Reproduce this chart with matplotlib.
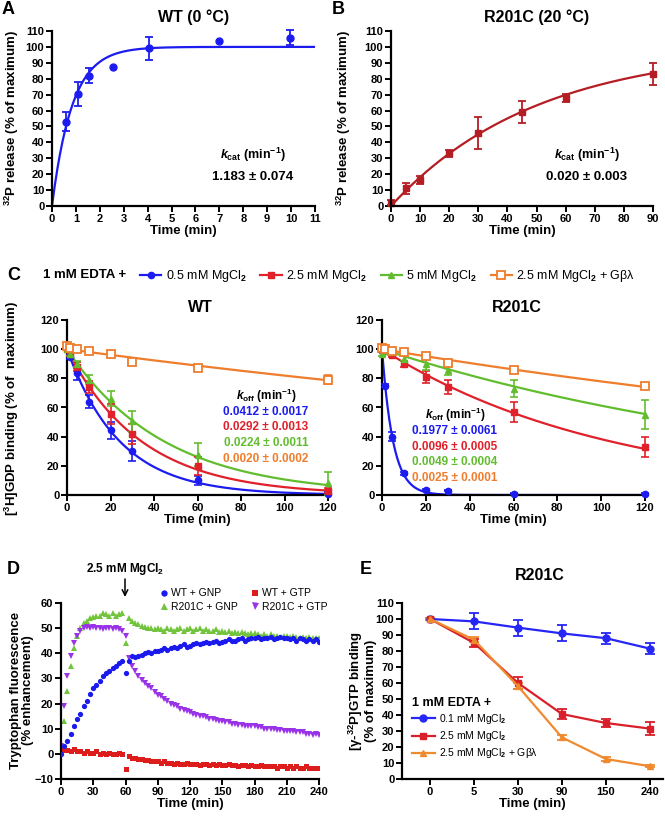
import numpy as np
import matplotlib
matplotlib.use('Agg')
import matplotlib.pyplot as plt
from matplotlib.lines import Line2D

plt.rcParams['font.family'] = ['Liberation Sans', 'DejaVu Sans']
plt.rcParams['font.weight'] = 'bold'
plt.rcParams['axes.labelweight'] = 'bold'
plt.rcParams['mathtext.fontset'] = 'custom'
plt.rcParams['mathtext.rm'] = 'Liberation Sans:bold'
plt.rcParams['mathtext.bf'] = 'Liberation Sans:bold'
plt.rcParams['mathtext.it'] = 'Liberation Sans:italic:bold'
plt.rcParams['mathtext.sf'] = 'Liberation Sans'

# ---- Panel A: WT (0 C) 32P release
a_t = [0.58, 1.08, 1.56, 2.55, 4.07, 7.0, 9.97]
a_y = [52.9, 70.3, 82.0, 87.4, 99.0, 103.8, 105.9]
a_err = [6.0, 7.5, 5.0, 0, 7.0, 0, 4.5]
a_kcat = 1.183

# ---- Panel B: R201C (20 C)
b_t = [0, 5, 10, 20, 30, 45, 60, 90]
b_y = [2, 11, 16.3, 33, 46, 59, 68, 83]
b_err = [1.5, 3.3, 2.5, 2, 10, 7, 2.5, 7]
b_kcat = 0.020

# ---- Panel C: [3H]GDP binding
c_t = [0, 1.5, 4.5, 10, 20, 30, 60, 120]
c_labels = ['0.5 mM MgCl$_\\mathsf{2}$', '2.5 mM MgCl$_\\mathsf{2}$',
            '5 mM MgCl$_\\mathsf{2}$', '2.5 mM MgCl$_\\mathsf{2}$ + G\u03b2\u03bb']
wt_y = {
    'blue':   [100, 94.8, 83.9, 64, 44.3, 30, 10, 1],
    'red':    [100, 97, 88, 74, 55.5, 42, 20, 3],
    'green':  [100, 97, 90, 79, 66, 50.5, 27.7, 8],
    'orange': [102, 101, 100, 98.5, 97, 91.5, 86.8, 79],
}
wt_err = {
    'blue':   [0, 1.5, 5, 4.5, 6, 7, 3, 1],
    'red':    [0, 1.5, 3, 4, 7, 7, 6, 1.5],
    'green':  [0, 1.5, 2, 3, 5, 7, 8, 8],
    'orange': [2, 1, 1, 1, 1.5, 1, 1, 3],
}
wt_k = {'blue': 0.0412, 'red': 0.0292, 'green': 0.0224, 'orange': 0.0020}
wt_ktxt = ['0.0412 \u00b1 0.0017', '0.0292 \u00b1 0.0013',
           '0.0224 \u00b1 0.0011', '0.0020 \u00b1 0.0002']
mu_y = {
    'blue':   [99, 75, 40, 15, 3.5, 3, 1, 1],
    'red':    [101, 99, 96, 90, 81, 74, 57, 33],
    'green':  [97, 99, 98, 93.6, 90, 86, 73, 55],
    'orange': [101, 100, 99, 98, 95.5, 90.7, 86, 75],
}
mu_err = {
    'blue':   [1, 1, 3, 1, 0.5, 0.5, 0.5, 0.5],
    'red':    [1, 1, 1.5, 2, 4, 5, 7, 7],
    'green':  [1.5, 1, 1, 2, 4, 4, 6, 10],
    'orange': [1, 1, 1, 1, 1, 1.5, 1, 2],
}
mu_k = {'blue': 0.1977, 'red': 0.0096, 'green': 0.0049, 'orange': 0.0025}
mu_ktxt = ['0.1977 \u00b1 0.0061', '0.0096 \u00b1 0.0005',
           '0.0049 \u00b1 0.0004', '0.0025 \u00b1 0.0001']

# ---- Panel D: tryptophan fluorescence, one reading every 3 min
d_t = list(range(0, 241, 3))
d_wt_gnp = [0, 3, 5, 8, 11, 14, 16, 19, 21, 24, 26, 27.5, 29, 31, 32, 33, 34, 35, 36, 37,
            32, 37, 39, 38.5, 39, 39.5, 40, 40.5, 40, 41, 41, 41.5, 42, 41.5, 42, 42.5, 42, 43, 43.5, 42.5,
            43, 43.5, 44, 43.5, 44, 44.5, 44, 44.5, 45, 44, 44.5, 45, 45.5, 45, 45, 45.5, 46, 45, 45.5, 46,
            46, 46.5, 45.5, 46, 46, 46.5, 45.5, 46, 46.5, 46, 46, 45.5, 46, 45, 46, 45.5, 45, 45.5, 45, 45.5, 44.5]
d_mu_gnp = [3, 13, 25, 35, 42, 47, 50, 52, 53, 54, 54.5, 55, 55, 56, 55.5, 55, 56, 55, 55.5, 56,
            44, 54, 53, 52, 51.5, 51, 50.5, 50, 50, 49.5, 50, 49.5, 49, 50, 49.5, 49, 49.5, 50, 49, 49.5,
            50, 49, 49.5, 50, 49, 49.5, 49, 49, 49.5, 48.5, 49, 48.5, 49, 48, 48.5, 48, 48.5, 48, 47.5, 48,
            48, 47.5, 47, 47.5, 47, 47.5, 47, 47, 46.5, 47, 47, 46.5, 47, 46.5, 46, 46.5, 46, 46.5, 46, 46, 46]
d_wt_gtp = [2, 1.5, 1.5, 1, 2, 1, 1, 0.5, 1, 0.5, 0.5, 1, 0, 0.5, 0, 0.5, 0, 0, 0.5, 0,
            -6, -1, -1.5, -1.5, -2, -2, -2.5, -2.5, -3, -3, -3, -3.5, -3, -3.5, -3.5, -4, -3.5, -4, -4, -3.5,
            -4, -4, -4, -4.5, -4, -4, -4.5, -4, -4.5, -4, -4.5, -4.5, -4, -4.5, -4.5, -5, -4.5, -4.5, -5, -4.5,
            -5, -5, -4.5, -5, -5, -5, -5, -5.5, -5, -5, -5.5, -5, -5.5, -5, -5.5, -5.5, -5, -5.5, -5.5, -5.5, -5.5]
d_mu_gtp = [3, 19, 31, 39, 44, 47, 49, 50, 50.5, 50, 50.5, 50, 50, 49.5, 50, 50, 49.5, 50, 49.5, 49,
            47, 38, 35, 33, 31, 29.5, 28, 27, 26, 24.5, 23.5, 23, 22, 21, 20, 19.5, 19, 18, 17.5, 17,
            16.5, 16, 15.5, 15, 15, 14.5, 14, 14, 13.5, 13, 13, 12.5, 12.5, 12, 12, 11.5, 11.5, 11, 11, 11,
            11, 10.5, 10.5, 10, 10, 10, 10, 9.5, 9.5, 9, 9, 9, 9, 8.5, 8.5, 8.5, 8, 8, 7.5, 8, 7.5]

# ---- Panel E: [g-32P]GTP binding, R201C
e_cats = ['0', '5', '30', '90', '150', '240']
e_blue = [100, 98.5, 94.6, 91, 88, 81.5]
e_blue_err = [0.5, 5, 5, 5, 3.5, 3.5]
e_red = [100, 85, 60, 40.6, 35, 31.5]
e_red_err = [0.5, 2.5, 4, 3, 2.5, 4]
e_orange = [100, 87, 58, 26, 12.5, 8]
e_orange_err = [0.5, 1.5, 2, 1.5, 1, 0.5]
e_labels = ['0.1 mM MgCl$_\\mathsf{2}$', '2.5 mM MgCl$_\\mathsf{2}$', '2.5 mM MgCl$_\\mathsf{2}$ + G\u03b2\u03bb']

COL = {'blue': '#1c1cf0', 'red': '#e0202a', 'green': '#62bd2e', 'orange': '#ef7d2c'}

W, H = 665, 821
fig = plt.figure(figsize=(W / 100, H / 100), dpi=100)


def box(l, t, r, b):
    ax = fig.add_axes([l / W, 1 - b / H, (r - l) / W, (b - t) / H])
    for s in ['top', 'right']:
        ax.spines[s].set_visible(False)
    for s in ['left', 'bottom']:
        ax.spines[s].set_linewidth(1.6)
    ax.tick_params(direction='out', length=4, width=1.4, labelsize=8, pad=1.5)
    return ax


def ftxt(x, y, s, **kw):
    kw.setdefault('ha', 'center')
    kw.setdefault('va', 'center')
    return fig.text(x / W, 1 - y / H, s, **kw)


def xlab(ax, s):
    ax.set_xlabel(s, fontsize=9.5, labelpad=1)


# ---------------- A
ax = box(52, 31, 315, 206)
tt = np.linspace(0, 11, 300)
ax.plot(tt, 100 * (1 - np.exp(-a_kcat * tt)), color=COL['blue'], lw=1.6)
m = np.array(a_err) > 0
ax.errorbar(np.array(a_t)[m], np.array(a_y)[m], yerr=np.array(a_err)[m], fmt='none',
            ecolor=COL['blue'], elinewidth=1.3, capsize=3, capthick=1.3, clip_on=False)
ax.plot(a_t, a_y, 'o', color=COL['blue'], ms=5, clip_on=False)
ax.set_xlim(0, 11)
ax.set_ylim(0, 110)
ax.set_xticks(range(0, 12))
ax.set_yticks(range(0, 111, 10))
xlab(ax, 'Time (min)')
ftxt(12, 118, '$^{32}$P release (% of maximum)', rotation=90, fontsize=9.5)
ftxt(194, 17, 'WT (0 \u00b0C)', fontsize=11.5)
ftxt(8, 10, 'A', fontsize=13)
ftxt(253, 155, '$\\mathit{k}_{\\mathrm{cat}}$ (min$^{-1}$)', fontsize=9)
ftxt(253, 177, '1.183 \u00b1 0.074', fontsize=9.5)

# ---------------- B
ax = box(391, 31, 653, 206)
tt = np.linspace(0, 90, 300)
bc = '#b51d24'
ax.plot(tt, 100 * (1 - np.exp(-b_kcat * tt)), color=bc, lw=1.6)
ax.errorbar(b_t, b_y, yerr=b_err, fmt='none', ecolor=bc, elinewidth=1.3, capsize=3,
            capthick=1.3, clip_on=False)
ax.plot(b_t, b_y, 's', color=bc, ms=5, clip_on=False)
ax.set_xlim(0, 90)
ax.set_ylim(0, 110)
ax.set_xticks(range(0, 91, 10))
ax.set_yticks(range(0, 111, 10))
xlab(ax, 'Time (min)')
ftxt(344, 118, '$^{32}$P release (% of maximum)', rotation=90, fontsize=9.5)
ftxt(537, 17, 'R201C (20 \u00b0C)', fontsize=11.5)
ftxt(338, 10, 'B', fontsize=13)
ftxt(587, 155, '$\\mathit{k}_{\\mathrm{cat}}$ (min$^{-1}$)', fontsize=9)
ftxt(587, 177, '0.020 \u00b1 0.003', fontsize=9.5)

# ---------------- C
markers = {'blue': 'o', 'red': 's', 'green': '^', 'orange': 's'}
handles = []
for (l, r, ys, errs, ks, ktxt, title, tx, ky) in [
        (67, 328, wt_y, wt_err, wt_k, wt_ktxt, 'WT', 266, 396),
        (382, 645, mu_y, mu_err, mu_k, mu_ktxt, 'R201C', 455, 415)]:
    ax = box(l, 320, r, 495)
    tt = np.linspace(0, 120, 400)
    for c in ['blue', 'red', 'green', 'orange']:
        col = COL[c]
        ax.plot(tt, 100 * np.exp(-ks[c] * tt), color=col, lw=1.6, zorder=2)
        ax.errorbar(c_t, ys[c], yerr=errs[c], fmt='none', ecolor=col, elinewidth=1.2,
                    capsize=3, capthick=1.2, clip_on=False, zorder=3)
        if c == 'orange':
            ax.plot(c_t, ys[c], 's', mfc='white', mec=col, mew=1.3, ms=5.5, clip_on=False, zorder=4)
        else:
            ax.plot(c_t, ys[c], markers[c], color=col, ms=4.5, clip_on=False, zorder=4)
    ax.set_xlim(0, 120)
    ax.set_ylim(0, 120)
    ax.set_xticks(range(0, 121, 20))
    ax.set_yticks(range(0, 121, 20))
    xlab(ax, 'Time (min)')
    ftxt((l + r) / 2 + 3, 308, title, fontsize=11.5)
    ftxt(tx, ky, '$\\mathit{k}_{\\mathrm{off}}$ (min$^{-1}$)', fontsize=8.5)
    for i, c in enumerate(['blue', 'red', 'green', 'orange']):
        ftxt(tx, ky + 16 + 15.5 * i, ktxt[i], fontsize=8.5, color=COL[c])

for c in ['blue', 'red', 'green']:
    handles.append(Line2D([], [], color=COL[c], lw=1.6, marker=markers[c], ms=4.5))
handles.append(Line2D([], [], color=COL['orange'], lw=1.6, marker='s', mfc='white',
                      mec=COL['orange'], mew=1.3, ms=5.5))
fig.legend(handles, c_labels, loc='center left', bbox_to_anchor=(140 / W, 1 - 276 / H),
           ncol=4, frameon=False, prop={'size': 9, 'weight': 'normal'}, handlelength=1.7,
           handletextpad=0.35, columnspacing=1.1, borderaxespad=0, borderpad=0)
ftxt(43, 275, '1 mM EDTA +', fontsize=9.5, ha='left')
ftxt(7, 275, 'C', fontsize=13, ha='left')
ftxt(12, 408, '[$^{3}$H]GDP binding (% of  maximum)', rotation=90, fontsize=9.5)

# ---------------- D
ax = box(61, 603, 319, 779)
ax.plot(d_t, d_wt_gnp, 'o', color='#1a1aee', ms=3.8, mew=0, label='WT + GNP', zorder=3)
ax.plot(d_t, d_mu_gnp, '^', color='#72c43c', ms=4.2, mew=0, label='R201C + GNP', zorder=2)
ax.plot(d_t, d_wt_gtp, 's', color='#dd1c1c', ms=3.6, mew=0, label='WT + GTP', zorder=2)
ax.plot(d_t, d_mu_gtp, 'v', color='#9a33e8', ms=4.2, mew=0, label='R201C + GTP', zorder=2)
ax.set_xlim(0, 240)
ax.set_ylim(-10, 60)
ax.set_xticks(range(0, 241, 30))
ax.set_yticks(range(-10, 61, 10))
xlab(ax, 'Time (min)')
ax.legend(loc='lower left', bbox_to_anchor=((160 - 61) / 258, (779 - 612) / 176), ncol=2,
          frameon=False, prop={'size': 7.5, 'weight': 'normal'}, markerscale=1.2,
          handlelength=0.8, handletextpad=0.3, columnspacing=1.2, borderaxespad=0,
          borderpad=0, labelspacing=0.35)
ftxt(125, 569, '2.5 mM MgCl$_2$', fontsize=8.5)
ax.annotate('', xy=(125 / W, 1 - 597 / H), xytext=(125 / W, 1 - 579 / H),
            xycoords='figure fraction', textcoords='figure fraction',
            arrowprops=dict(arrowstyle='->', lw=1.1, color='black', shrinkA=0, shrinkB=0))
ftxt(7, 570, 'D', fontsize=13, ha='left')
ftxt(22, 690, 'Tryptophan fluorescence\n(% enhancement)', rotation=90, fontsize=9.5,
     linespacing=1.1)

# ---------------- E
ax = box(402, 603, 663, 779)
xe = np.arange(len(e_cats))
e_handles = []
for ys, es, c, mk in [(e_blue, e_blue_err, '#2626f5', 'o'),
                      (e_red, e_red_err, '#d91f2a', 's'),
                      (e_orange, e_orange_err, '#ef8a2e', '^')]:
    ax.errorbar(xe, ys, yerr=es, color=c, lw=1.6, marker=mk, ms=5, elinewidth=1.3,
                capsize=3.5, capthick=1.3, clip_on=False)
    e_handles.append(Line2D([], [], color=c, lw=1.6, marker=mk, ms=5))
ax.set_xlim(-0.64, 5.3)
ax.set_ylim(0, 110)
ax.set_xticks(xe)
ax.set_xticklabels(e_cats)
ax.set_yticks(range(0, 111, 10))
xlab(ax, 'Time (min)')
ax.legend(e_handles, e_labels, loc='upper left',
          bbox_to_anchor=((412 - 402) / 261, (779 - 697) / 176),
          frameon=False, prop={'size': 7.5, 'weight': 'normal'}, title='1 mM EDTA +',
          title_fontproperties={'size': 9, 'weight': 'bold'}, alignment='left',
          handlelength=2.2, handletextpad=0.4, borderaxespad=0, borderpad=0,
          labelspacing=0.3)
ftxt(540, 575, 'R201C', fontsize=11.5)
ftxt(360, 570, 'E', fontsize=13, ha='left')
ftxt(362, 691, '[\u03b3-$^{32}$P]GTP binding\n(% of maximum)', rotation=90, fontsize=9.5,
     linespacing=1.0)

fig.savefig('out.png', dpi=100, facecolor='white')
